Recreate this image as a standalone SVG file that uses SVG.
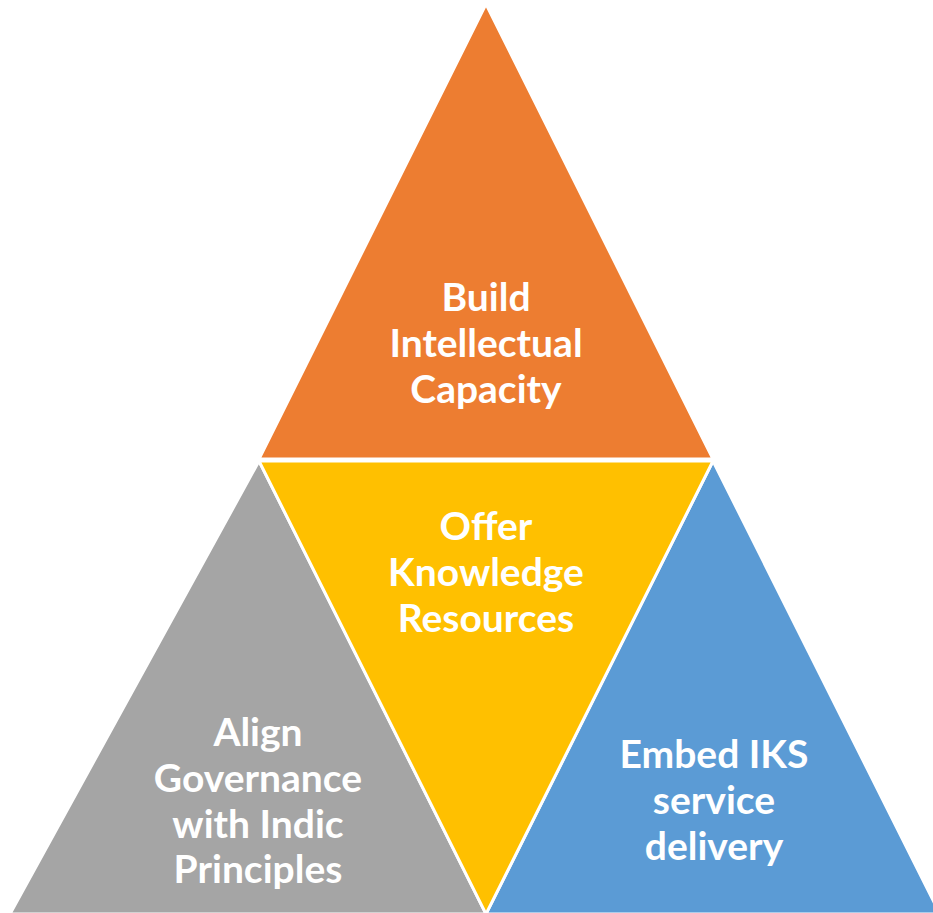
<svg xmlns="http://www.w3.org/2000/svg" width="933" height="913" viewBox="0 0 933 913">
<style>
.tri{stroke:#FFFFFF;stroke-width:3;stroke-linejoin:miter}
.lbl{font-family:Lato,"Open Sans","Liberation Sans",sans-serif;font-weight:bold;font-size:39px;fill:#FFFFFF;text-anchor:middle}
</style>
<rect width="933" height="913" fill="#FFFFFF"/>
<g id="gray">
<polygon class="tri" points="259,461 486,914 10,914" fill="#A5A5A5"/>
<text class="lbl" x="258" y="746">Align</text>
<text class="lbl" x="258" y="792">Governance</text>
<text class="lbl" x="258" y="838">with Indic</text>
<text class="lbl" x="258" y="883">Principles</text>
</g>
<g id="blue">
<polygon class="tri" points="713,461 940,914 486,914" fill="#5B9BD5"/>
<text class="lbl" x="714" y="768">Embed IKS</text>
<text class="lbl" x="714" y="814">service</text>
<text class="lbl" x="714" y="860">delivery</text>
</g>
<g id="orange">
<polygon class="tri" points="486,4 259,459 713,459" fill="#ED7D31"/>
<text class="lbl" x="486" y="311">Build</text>
<text class="lbl" x="486" y="357">Intellectual</text>
<text class="lbl" x="486" y="403">Capacity</text>
</g>
<g id="yellow">
<polygon class="tri" points="259,461 713,461 486,914" fill="#FFC000"/>
<text class="lbl" x="486" y="540">Offer</text>
<text class="lbl" x="486" y="586">Knowledge</text>
<text class="lbl" x="486" y="632">Resources</text>
</g>
<g id="connectors"/>
</svg>
